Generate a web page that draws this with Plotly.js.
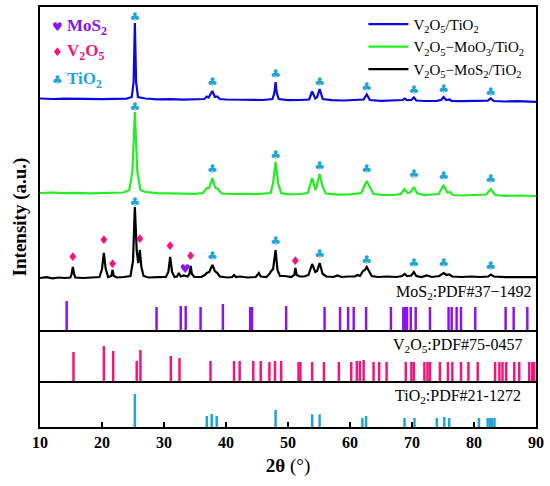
<!DOCTYPE html>
<html>
<head>
<meta charset="utf-8">
<script src="https://cdn.plot.ly/plotly-3.0.1.min.js"></script>
<style>html,body{margin:0;padding:0;background:#fff;}#chart{width:550px;height:486px;}</style>
</head>
<body>
<div id="chart"></div>
<script>
// ---- Data (y in stacked display units) ----
const blueX = [10,12,14,16,18,20,22,24,24.8,25.1,25.3,25.5,25.8,27,29,31,33,35,36.5,36.9,37.2,37.8,38.2,38.6,39.0,40,42,44,46,47.5,47.8,48.0,48.2,48.5,50,52,53.4,53.9,54.4,54.7,55.1,55.6,57,59,61,62.2,62.7,63.2,65,67,68.5,68.8,69.2,69.9,70.3,70.7,72,74,74.7,75.1,75.5,76.0,76.4,78,80,82.2,82.7,83.2,85,87,90];
const blueY = [328.5,328,328.4,328,328.3,327.9,328.2,328.4,330,345,404,345,330,328.5,327.6,327.9,327.4,327.7,328,330.5,329.5,336,330,330.5,328,327.5,327.2,327.5,327,328,334,345,334,328,326.8,327,327.5,335.5,328.5,330,338,328,326.8,326.5,326.7,327.5,332.5,327,326.2,326.4,327,328.5,326.8,327,329.5,326.5,326,326.2,327,330,327,327.5,326,325.8,326,326.3,328.5,326,325.5,325.8,325.2];

const greenX = [10,12,14,16,18,20,22,23.5,24.4,24.9,25.3,25.7,26.2,27,29,31,33,35,36.3,36.9,37.3,37.8,38.3,38.7,39.3,41,43,45,47.2,47.6,48.0,48.4,48.9,50,52,53.2,53.9,54.4,54.6,55.1,55.6,56.1,58,60,61.8,62.3,62.7,63.2,63.8,65,67,68.2,68.8,69.3,69.8,70.3,70.8,72,74.3,75.1,75.7,76.1,76.6,78,80,82.0,82.7,83.4,85,87,90];
const greenY = [234,234.5,233.8,234.2,233.6,234,234.3,234.5,237,255,315,255,237,235,233.8,233.5,233.6,233.2,234,239,239,249,239,238,233.5,233,233.2,232.8,234,244,265,244,234,232.6,233,234,249,237,240,253,240,233.5,232.4,232.6,234,240,246,240,233,232.2,232,233,238,234,235,240,234,231.8,233,242,234.5,235,232,231.5,231.7,232.5,238,232,231.2,231.5,231];

const blackX = [10,11,12,13,14,14.9,15.1,15.3,15.5,15.7,17,18.5,19.6,20.0,20.3,20.6,21.0,21.5,21.7,21.9,22.4,23.5,24.6,25.0,25.3,25.6,25.85,26.1,26.35,26.7,27.5,29,30.3,30.7,31.0,31.3,31.7,32.1,32.4,32.7,33.2,33.8,34.1,34.3,34.5,34.9,36.0,36.6,36.9,37.3,37.8,38.2,38.6,39.0,40.2,41.0,41.3,41.6,42.2,43.5,44.8,45.3,45.6,46.5,47.0,47.3,47.6,48.0,48.3,48.7,49.5,50.5,51.0,51.2,51.4,51.9,52.6,53.3,53.9,54.4,54.7,55.1,55.6,56.2,57.3,58.0,58.6,59.8,60.8,61.2,61.6,62.1,62.4,62.7,63.1,63.5,64.5,66.0,67.5,68.4,68.8,69.2,69.9,70.3,70.7,71.5,72.4,73.2,74.4,75.1,75.6,76.0,76.5,78,79.5,81,82.3,82.7,83.2,85,87,88.5,90];
const blackY = [149,149.8,148.6,149.5,149,149.5,153,160,153,149.5,149,149.8,150,158,174,158,150,151,157,151,149.5,150,151,166,220,176,164,177,160,151,149.5,149.8,150,155,170,155,150,150.5,154,150.5,151.5,150.5,153,161,153,150,150,152,154,155,162,156,154,150.5,149.5,150,152,150,150.5,149.5,150,154,150.5,150,153,156,158,177,157,151,151,150,152,159,152,150.5,150.5,152,163,155,156,164,153,150.5,150,151.5,150,150.5,150.5,152,151,156,157,160,155,151,150,150.5,150,151,153,151,151.5,155,151,150,151.5,150,151,154,152,152.5,150.5,150,150.5,150,150.5,152.5,150.5,149.8,150,149.6,149.8];

// phase markers above peaks
const clubX = [25.3,37.8,48.0,55.1,62.7,70.3,75.1,82.7];
const clubBlueY = [409,344,352,344,339,336,337,334];
const clubGreenY = [319,257,271,260,257,252,250,247];
const clubBlackY = [224,170,185,172,166,163,163,160];
const diamondX = [15.3,20.3,21.7,26.1,31.0,34.3,51.2];
const diamondY = [169,186,162,187,180,170,165];
const heartX = [33.4];
const heartY = [157];

// reference stick patterns
const mos2Pos = [14.3,28.8,32.7,33.5,35.9,39.5,43.9,44.2,49.7,55.9,58.4,59.7,60.6,62.6,66.6,68.6,68.9,69.2,69.8,70.6,72.9,75.9,76.4,77.2,77.9,80.2,85.1,86.4,88.6];
const mos2Int = [30,24,25,25,24,27,24,24,25,24,24,24,24,24,24,24,24,24,24,24,24,24,24,24,24,24,24,24,24];
const v2o5Pos = [15.4,20.3,21.8,25.6,26.2,31.1,32.5,37.5,41.3,42.2,44.4,45.6,47.0,47.9,48.9,51.7,52.0,53.9,55.8,58.2,60.2,61.1,61.6,62.2,63.8,64.7,65.9,69.0,69.9,70.3,72.0,72.5,72.9,74.5,75.8,76.5,77.9,79.1,80.6,83.4,84.1,84.6,85.2,86.5,87.3,88.9,89.4,89.7];
const v2o5Int = [30,36,31,21,32,26,24,21,21,21,21,21,20,21,21,20,20,20,20,20,20,21,21,22,20,20,20,20,20,20,20,20,20,20,20,20,20,20,20,20,20,20,20,20,20,20,20,20];
const tio2Pos = [25.3,36.9,37.7,38.5,48.0,53.9,55.1,62.0,62.6,68.8,70.4,74.0,75.2,76.0,80.8,82.2,82.6,82.9,83.3];
const tio2Int = [33,11,13,11,17,12.7,12.7,9,11,9,9,9,10,9,9,9,9,9,9];
const mos2Base = 96, v2o5Base = 45, tio2Base = 0;

const tickVals = [10,20,30,40,50,60,70,80,90];

const SERIF = 'Liberation Serif, Times New Roman, serif';
const cBlue = '#0a0ae0', cGreen = '#22ee22', cBlack = '#000000';
const cMoS2 = '#8a14f0', cV2O5 = '#f5137d', cTiO2 = '#1ea6d8';

function sticks(pos, ints, base, color) {
  return {type:'bar', x:pos, y:ints, base:pos.map(()=>base), width:0.4,
    marker:{color:color, line:{width:0}}, showlegend:false, hoverinfo:'skip'};
}
function glyphs(xs, ys, ch, color, size) {
  return {type:'scatter', mode:'text', x:xs, y:ys, text:xs.map(()=>ch),
    textfont:{family:'DejaVu Sans', size:size, color:color}, textposition:'middle center',
    showlegend:false, hoverinfo:'skip'};
}

const data = [
  {type:'scatter', mode:'lines', x:blueX, y:blueY, line:{color:cBlue, width:2.2},
   name:'V<sub>2</sub>O<sub>5</sub>/TiO<sub>2</sub>'},
  {type:'scatter', mode:'lines', x:greenX, y:greenY, line:{color:cGreen, width:2.2},
   name:'V<sub>2</sub>O<sub>5</sub>\u2212MoO<sub>3</sub>/TiO<sub>2</sub>'},
  {type:'scatter', mode:'lines', x:blackX, y:blackY, line:{color:cBlack, width:2.2},
   name:'V<sub>2</sub>O<sub>5</sub>\u2212MoS<sub>2</sub>/TiO<sub>2</sub>'},
  sticks(mos2Pos, mos2Int, mos2Base, cMoS2),
  sticks(v2o5Pos, v2o5Int, v2o5Base, cV2O5),
  sticks(tio2Pos, tio2Int, tio2Base, cTiO2),
  glyphs(clubX, clubBlueY, '\u2663', cTiO2, 12),
  glyphs(clubX, clubGreenY, '\u2663', cTiO2, 12),
  glyphs(clubX, clubBlackY, '\u2663', cTiO2, 12),
  glyphs(diamondX, diamondY, '\u2666', cV2O5, 12),
  glyphs(heartX, heartY, '\u2665', cMoS2, 12)
];

const layout = {
  width:550, height:486,
  margin:{l:40, r:14, t:7, b:59, pad:0},
  paper_bgcolor:'#ffffff', plot_bgcolor:'#ffffff',
  barmode:'overlay',
  showlegend:true,
  legend:{x:0.652, y:0.998, xanchor:'left', yanchor:'top', bgcolor:'rgba(0,0,0,0)',
    font:{family:SERIF, size:15, color:'#000'}, itemwidth:40, tracegroupgap:0},
  xaxis:{range:[10,90], tickvals:tickVals, ticktext:tickVals.map(String),
    ticks:'inside', ticklen:5, tickwidth:2, tickcolor:'#000',
    showline:true, linewidth:2, linecolor:'#000', mirror:true,
    showgrid:false, zeroline:false,
    tickfont:{family:SERIF, size:16, color:'#000', weight:'bold'},
    title:{text:'<b>2\u03b8</b> (\u00b0)', font:{family:SERIF, size:19, color:'#000'}, standoff:8}},
  yaxis:{range:[0,420], showticklabels:false, ticks:'',
    showline:true, linewidth:2, linecolor:'#000', mirror:true,
    showgrid:false, zeroline:false,
    title:{text:'<b>Intensity (a.u.)</b>', font:{family:SERIF, size:19, color:'#000'}, standoff:6}},
  shapes:[
    {type:'line', xref:'paper', x0:0, x1:1, yref:'y', y0:mos2Base, y1:mos2Base, line:{color:'#000', width:2}},
    {type:'line', xref:'paper', x0:0, x1:1, yref:'y', y0:v2o5Base, y1:v2o5Base, line:{color:'#000', width:2}}
  ],
  annotations:[
    {xref:'paper', yref:'y', x:1, y:135, xanchor:'right', yanchor:'middle', xshift:-2, showarrow:false,
     text:'MoS<sub>2</sub>:PDF#37\u22121492', font:{family:SERIF, size:16, color:'#000'}},
    {xref:'paper', yref:'y', x:1, y:82, xanchor:'right', yanchor:'middle', xshift:-12, showarrow:false,
     text:'V<sub>2</sub>O<sub>5</sub>:PDF#75-0457', font:{family:SERIF, size:16, color:'#000'}},
    {xref:'paper', yref:'y', x:1, y:31, xanchor:'right', yanchor:'middle', xshift:-13, showarrow:false,
     text:'TiO<sub>2</sub>:PDF#21-1272', font:{family:SERIF, size:16, color:'#000'}},
    {xref:'paper', yref:'y', x:0.02, y:400, xanchor:'left', yanchor:'middle', showarrow:false,
     text:'<span style="font-family:DejaVu Sans;font-size:12px">\u2665</span> <b>MoS<sub>2</sub></b>', font:{family:SERIF, size:17, color:cMoS2}},
    {xref:'paper', yref:'y', x:0.02, y:375, xanchor:'left', yanchor:'middle', showarrow:false,
     text:'<span style="font-family:DejaVu Sans;font-size:12px">\u2666</span> <b>V<sub>2</sub>O<sub>5</sub></b>', font:{family:SERIF, size:17, color:cV2O5}},
    {xref:'paper', yref:'y', x:0.02, y:347, xanchor:'left', yanchor:'middle', showarrow:false,
     text:'<span style="font-family:DejaVu Sans;font-size:12px">\u2663</span> <b>TiO<sub>2</sub></b>', font:{family:SERIF, size:17, color:cTiO2}}
  ]
};

Plotly.newPlot('chart', data, layout, {displayModeBar:false, staticPlot:true});
</script>
</body>
</html>
